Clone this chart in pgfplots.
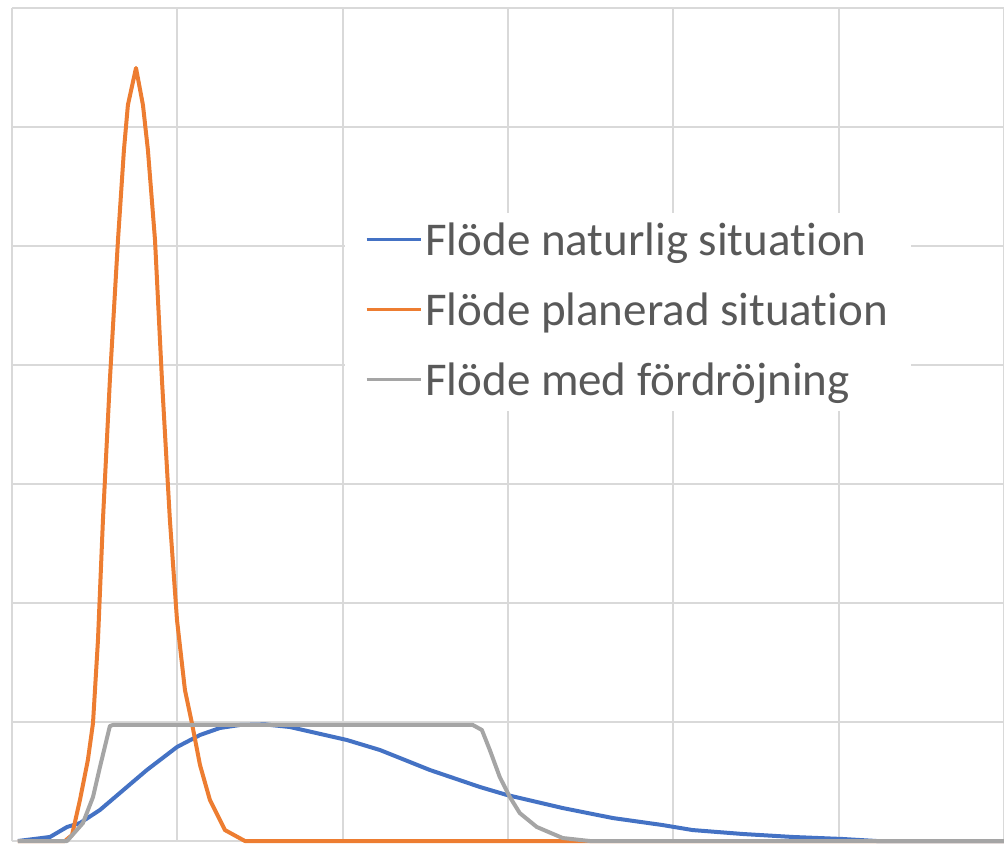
\documentclass[border=0pt]{standalone}
\usepackage{fontspec}
\setmainfont[Ligatures=NoCommon]{Carlito}
\usepackage{pgfplots}
\pgfplotsset{compat=1.18}
\definecolor{xlblue}{HTML}{4472C4}
\definecolor{xlorange}{HTML}{ED7D31}
\definecolor{xlgray}{HTML}{A5A5A5}
\definecolor{gridgray}{HTML}{D9D9D9}
\definecolor{legtext}{HTML}{595959}
\begin{document}
\begin{tikzpicture}
\begin{axis}[
  scale only axis, width=496pt, height=416.5pt,
  xmin=0, xmax=60, ymin=0, ymax=70,
  xtick={0,10,...,60}, ytick={0,10,...,70},
  xticklabels={}, yticklabels={},
  tick style={draw=none}, major tick length=0pt,
  axis line style={draw=none},
  grid=major, major grid style={draw=gridgray, line width=1pt},
  clip=false,
  legend style={at={(axis cs:20.13,52.77)}, anchor=north west,
    draw=none, fill=white, text=legtext,
    font=\fontsize{23.5}{28}\selectfont,
    inner xsep=10pt, inner ysep=2pt, row sep=10pt,
    nodes={text height=18pt, text depth=5pt, inner ysep=1pt, inner xsep=1.5pt}},
  legend cell align=left,
  legend image code/.code={\draw[#1, line width=1.5pt] (0pt,1.5pt) -- (27pt,1.5pt);},
  every axis plot/.append style={line width=2pt, line join=round},
]
\addplot[xlblue] coordinates {
  (0.36,0) (2.30,0.34) (3.33,1.18) (4.11,1.51) (5.32,2.61) (6.95,4.54)
  (8.16,5.97) (9.98,7.90) (11.37,8.91) (12.58,9.50) (13.78,9.75) (15.30,9.80)
  (16.81,9.58) (20.25,8.49) (22.25,7.65) (25.27,5.97) (28.30,4.54) (29.93,3.87)
  (33.31,2.77) (36.34,1.93) (39.36,1.34) (41.17,0.92) (44.20,0.59) (47.22,0.34)
  (50.24,0.17) (52.30,0) (60,0)
};
\addlegendentry{Flöde naturlig situation}
\addplot[xlorange] coordinates {
  (0.36,0) (3.20,0) (3.63,0.50) (4.11,3.45) (4.59,6.81) (4.90,9.92) (5.20,16.89)
  (5.50,26.97) (5.92,38.74) (6.41,50.50) (6.77,58.07) (7.01,61.85) (7.50,64.96)
  (7.92,61.85) (8.22,58.07) (8.65,50.50) (9.07,38.74) (9.55,26.97) (9.98,18.57)
  (10.46,12.69) (10.88,9.92) (11.37,6.39) (11.97,3.45) (12.88,0.92) (14.09,0) (60,0)
};
\addlegendentry{Flöde planerad situation}
\addplot[xlgray] coordinates {
  (0.36,0) (3.33,0) (4.29,1.51) (4.90,3.70) (5.32,6.22) (5.92,9.66) (6.10,9.75)
  (27.87,9.75) (28.42,9.33) (28.90,7.65) (29.50,5.38) (30.11,3.70) (30.71,2.35)
  (31.74,1.18) (33.31,0.25) (34.95,0) (60,0)
};
\addlegendentry{Flöde med fördröjning}
\end{axis}
\pgfresetboundingbox
\path[use as bounding box] (-6pt,-1pt) rectangle (496pt,420.5pt);
\end{tikzpicture}
\end{document}
